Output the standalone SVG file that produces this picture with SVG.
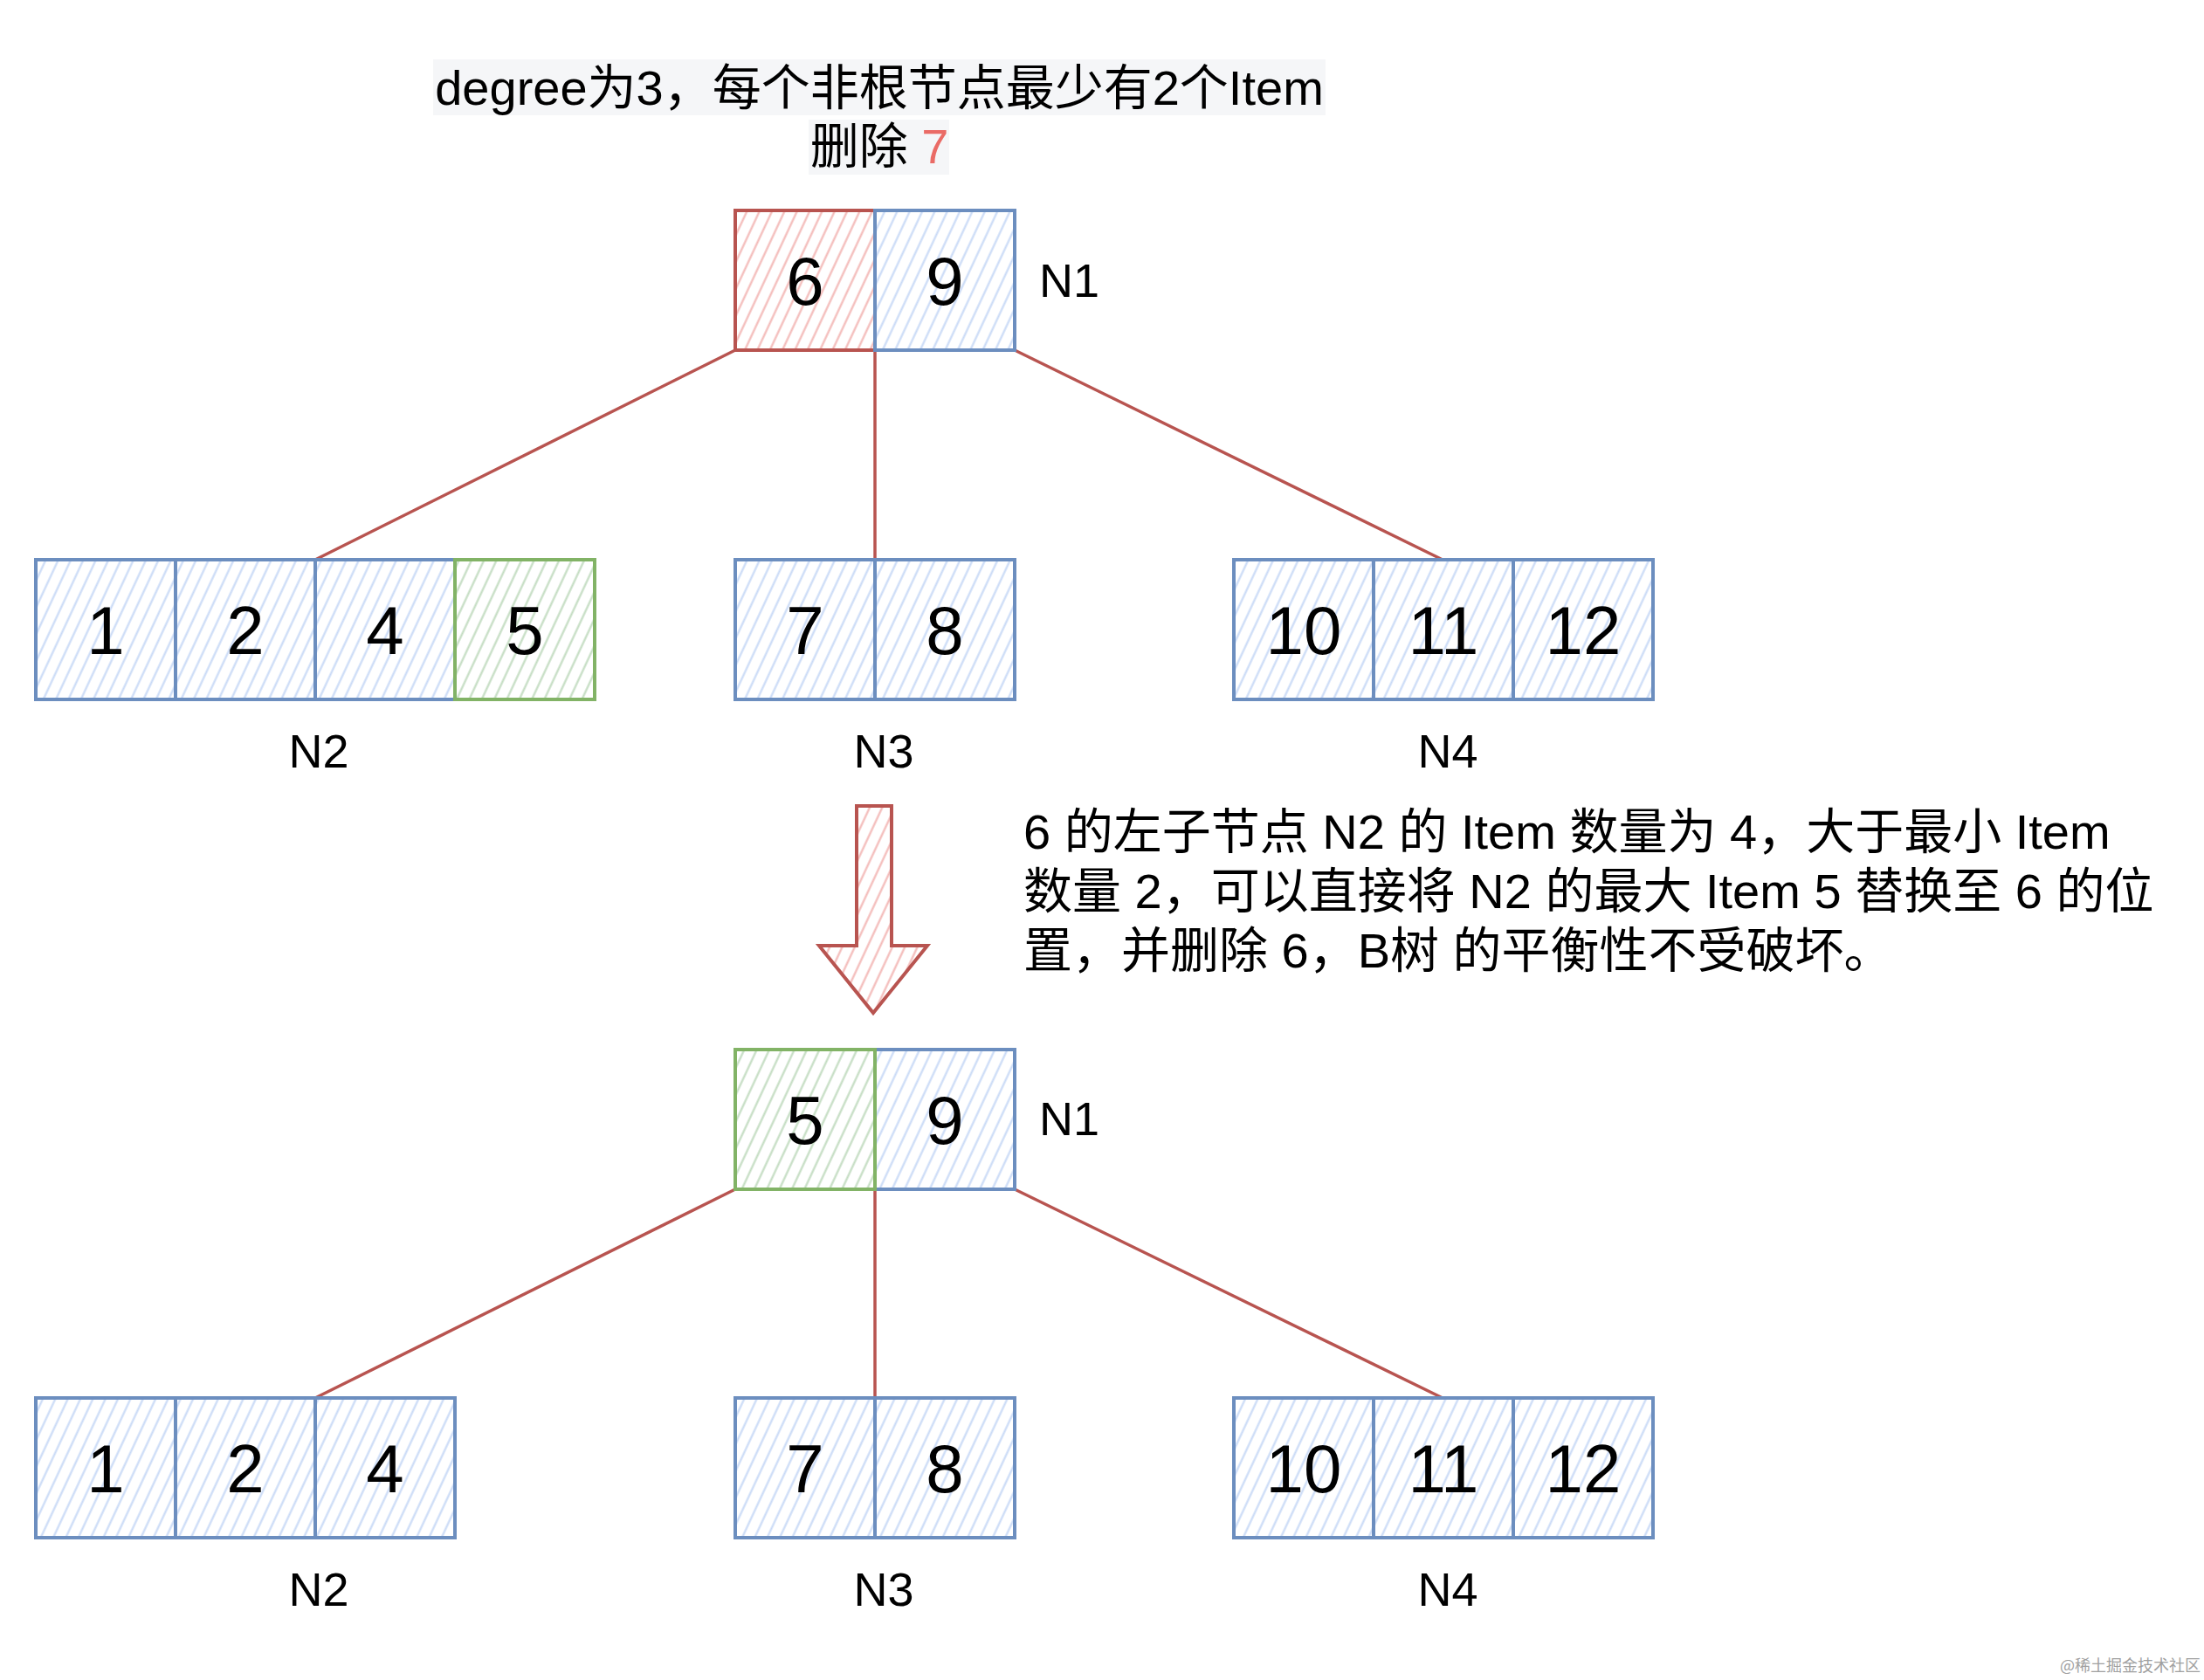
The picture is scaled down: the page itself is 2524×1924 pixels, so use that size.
<svg xmlns="http://www.w3.org/2000/svg" width="2524" height="1924" viewBox="0 0 2524 1924">
<defs>
<pattern id="hb" width="13" height="13" patternUnits="userSpaceOnUse" patternTransform="rotate(25)"><line x1="6.5" y1="0" x2="6.5" y2="13" stroke="#c9daf6" stroke-width="2.2"/></pattern>
<pattern id="hr" width="13" height="13" patternUnits="userSpaceOnUse" patternTransform="rotate(25)"><line x1="6.5" y1="0" x2="6.5" y2="13" stroke="#f3b9b7" stroke-width="2.2"/></pattern>
<pattern id="hg" width="13" height="13" patternUnits="userSpaceOnUse" patternTransform="rotate(25)"><line x1="6.5" y1="0" x2="6.5" y2="13" stroke="#c3dcc1" stroke-width="2.2"/></pattern>
</defs>
<style>
.b{fill:url(#hb);stroke:#6c8ebf;stroke-width:4}
.r{fill:url(#hr);stroke:#b85450;stroke-width:4}
.g{fill:url(#hg);stroke:#82b366;stroke-width:4}
.num{font-family:"Liberation Sans","Noto Sans CJK SC",sans-serif;font-size:78px;fill:#000;text-anchor:middle}
.lbl{font-family:"Liberation Sans","Noto Sans CJK SC",sans-serif;font-size:54px;fill:#000}
.txt{font-family:"Liberation Sans","Noto Sans CJK SC",sans-serif;font-size:56px;fill:#000}
.edge{stroke:#b85450;stroke-width:3.5;fill:none}
</style>
<rect width="2524" height="1924" fill="#ffffff"/>

<g id="title">
<rect x="496" y="68" width="1022" height="64" fill="#f5f6f8"/>
<rect x="926" y="137" width="161" height="63" fill="#f5f6f8"/>
<text class="txt" x="1007" y="120" text-anchor="middle">degree为3，每个非根节点最少有2个Item</text>
<text class="txt" x="1007" y="187" text-anchor="middle">删除 <tspan fill="#ea6b66">7</tspan></text>
</g>

<g id="connectors">
<line class="edge" x1="842" y1="401" x2="361" y2="641"/>
<line class="edge" x1="1002" y1="401" x2="1002" y2="641"/>
<line class="edge" x1="1162" y1="401" x2="1652" y2="641"/>
<line class="edge" x1="842" y1="1362" x2="361" y2="1601"/>
<line class="edge" x1="1002" y1="1362" x2="1002" y2="1601"/>
<line class="edge" x1="1162" y1="1362" x2="1652" y2="1601"/>
</g>

<g id="n1-top">
<rect class="r" x="842" y="241" width="160" height="160"/>
<rect class="b" x="1002" y="241" width="160" height="160"/>
<text class="num" x="922" y="349">6</text>
<text class="num" x="1082" y="349">9</text>
<text class="lbl" x="1190" y="340">N1</text>
</g>

<g id="n2-top">
<rect class="b" x="41" y="641" width="160" height="160"/>
<rect class="b" x="201" y="641" width="160" height="160"/>
<rect class="b" x="361" y="641" width="160" height="160"/>
<rect class="g" x="521" y="641" width="160" height="160"/>
<text class="num" x="121" y="749">1</text>
<text class="num" x="281" y="749">2</text>
<text class="num" x="441" y="749">4</text>
<text class="num" x="601" y="749">5</text>
<text class="lbl" x="365" y="879" text-anchor="middle">N2</text>
</g>

<g id="n3-top">
<rect class="b" x="842" y="641" width="160" height="160"/>
<rect class="b" x="1002" y="641" width="160" height="160"/>
<text class="num" x="922" y="749">7</text>
<text class="num" x="1082" y="749">8</text>
<text class="lbl" x="1012" y="879" text-anchor="middle">N3</text>
</g>

<g id="n4-top">
<rect class="b" x="1413" y="641" width="160" height="160"/>
<rect class="b" x="1573" y="641" width="160" height="160"/>
<rect class="b" x="1733" y="641" width="160" height="160"/>
<text class="num" x="1493" y="749">10</text>
<text class="num" x="1653" y="749">11</text>
<text class="num" x="1813" y="749">12</text>
<text class="lbl" x="1658" y="879" text-anchor="middle">N4</text>
</g>

<g id="arrow">
<polygon class="r" points="981,923 1021,923 1021,1083 1062,1083 1000,1160 938,1083 981,1083"/>
</g>

<g id="explain">
<text class="txt" x="1172" y="972">6 的左子节点 N2 的 Item 数量为 4，大于最小 Item</text>
<text class="txt" x="1172" y="1040">数量 2，可以直接将 N2 的最大 Item 5 替换至 6 的位</text>
<text class="txt" x="1172" y="1108">置，并删除 6，B树 的平衡性不受破坏。</text>
</g>

<g id="n1-bottom">
<rect class="b" x="1002" y="1202" width="160" height="160"/>
<rect class="g" x="842" y="1202" width="160" height="160"/>
<text class="num" x="922" y="1310">5</text>
<text class="num" x="1082" y="1310">9</text>
<text class="lbl" x="1190" y="1300">N1</text>
</g>

<g id="n2-bottom">
<rect class="b" x="41" y="1601" width="160" height="160"/>
<rect class="b" x="201" y="1601" width="160" height="160"/>
<rect class="b" x="361" y="1601" width="160" height="160"/>
<text class="num" x="121" y="1709">1</text>
<text class="num" x="281" y="1709">2</text>
<text class="num" x="441" y="1709">4</text>
<text class="lbl" x="365" y="1839" text-anchor="middle">N2</text>
</g>

<g id="n3-bottom">
<rect class="b" x="842" y="1601" width="160" height="160"/>
<rect class="b" x="1002" y="1601" width="160" height="160"/>
<text class="num" x="922" y="1709">7</text>
<text class="num" x="1082" y="1709">8</text>
<text class="lbl" x="1012" y="1839" text-anchor="middle">N3</text>
</g>

<g id="n4-bottom">
<rect class="b" x="1413" y="1601" width="160" height="160"/>
<rect class="b" x="1573" y="1601" width="160" height="160"/>
<rect class="b" x="1733" y="1601" width="160" height="160"/>
<text class="num" x="1493" y="1709">10</text>
<text class="num" x="1653" y="1709">11</text>
<text class="num" x="1813" y="1709">12</text>
<text class="lbl" x="1658" y="1839" text-anchor="middle">N4</text>
</g>

<text x="2520" y="1914" text-anchor="end" font-family="Noto Sans CJK SC, sans-serif" font-size="18" fill="#a0a0a0">@稀土掘金技术社区</text>
</svg>
